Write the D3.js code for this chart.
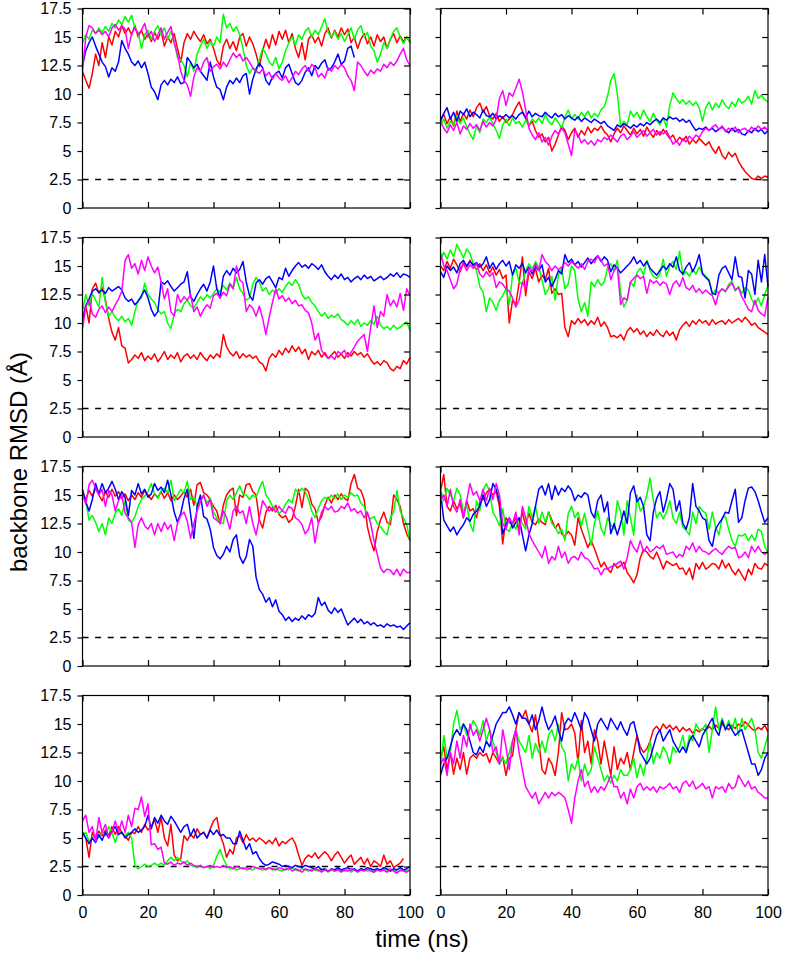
<!DOCTYPE html>
<html><head><meta charset="utf-8">
<script src="https://cdn.jsdelivr.net/npm/d3@7"></script>
<style>body{margin:0;background:#fff}</style>
</head><body><svg id="c" width="787" height="954"></svg>
<script>
const xTicks = [0,20,40,60,80,100];
const yTicks = [0,2.5,5,7.5,10,12.5,15,17.5];
const threshold = 2.5;
const xTitle = "time (ns)";
const yTitle = "backbone RMSD (Å)";
const seriesColors = ["#ff0000","#00ff00","#0000ff","#ff00ff"]; // red, green, blue, magenta

// Panel 1 (top left)
const p1Red = [12.0,11.2,10.5,11.8,13.5,12.5,14.5,13.2,15.0,14.3,15.5,15.0,16.0,15.3,15.8,15.2,16.0,15.0,15.6,14.8,15.3,14.6,15.4,14.8,15.5,14.2,15.0,14.5,15.3,14.0,12.8,14.5,15.3,14.8,15.5,15.0,14.6,15.2,14.4,14.8,14.0,13.0,12.5,14.2,14.8,14.0,14.6,13.8,15.0,15.3,14.2,15.0,14.4,13.5,12.4,13.8,14.8,14.0,15.2,14.3,15.5,14.8,15.6,14.5,15.3,14.0,13.2,14.5,13.0,14.8,15.2,14.5,15.0,14.2,15.3,15.8,14.9,15.6,15.0,15.8,15.2,15.7,14.5,15.0,14.0,14.8,15.3,14.4,15.0,14.2,15.2,14.6,15.0,14.0,14.8,15.3,14.5,15.1,14.6,15.0,14.5];
const p1Green = [14.5,15.2,14.8,15.6,15.3,15.8,15.4,15.9,15.5,16.2,15.8,16.5,16.1,16.8,16.3,16.9,15.8,15.4,14.0,15.2,15.6,14.8,15.5,16.0,15.2,15.8,14.8,15.5,14.6,13.2,13.0,12.5,11.5,12.8,12.0,13.5,14.2,14.8,14.0,14.6,14.2,15.0,14.5,17.0,15.8,16.2,15.5,15.9,15.2,14.0,12.5,11.8,12.3,11.9,13.0,14.0,13.5,12.8,12.5,13.2,12.2,12.8,13.8,14.5,15.0,14.3,15.2,14.8,15.5,15.8,15.0,15.6,15.2,15.9,16.6,15.4,15.0,15.5,14.8,15.3,14.6,15.2,15.8,14.8,15.6,16.0,15.0,15.4,14.2,13.8,12.8,13.5,14.5,14.0,14.8,15.5,15.8,15.0,14.4,15.0,14.6];
const p1Blue = [12.5,13.8,14.5,15.0,14.2,13.5,12.8,12.4,11.5,12.3,12.0,12.8,14.7,14.0,13.5,12.8,12.5,12.9,12.3,12.8,11.8,10.6,10.2,9.5,10.8,11.2,10.8,11.3,11.0,11.5,10.9,11.0,13.2,12.8,12.3,12.6,12.0,11.6,11.2,12.8,11.5,10.6,10.4,9.5,10.6,11.2,10.9,11.4,11.0,11.6,11.8,10.0,11.3,12.2,12.7,12.3,11.2,10.8,11.5,11.8,12.0,11.4,12.3,12.6,11.8,11.0,10.8,11.2,11.9,12.3,11.6,12.5,12.2,12.7,13.0,12.1,12.3,12.8,13.5,12.6,12.9,14.0,14.2,13.2];
const p1Magenta = [12.0,15.0,16.0,15.8,15.3,15.6,15.2,15.5,15.0,15.8,16.1,15.6,16.0,15.7,14.0,15.3,15.8,15.2,15.6,16.2,15.0,15.5,14.6,15.2,15.8,14.8,15.4,15.9,14.5,13.5,12.0,11.2,10.8,9.8,11.5,12.3,12.0,12.8,13.2,12.0,12.4,12.6,12.2,12.8,12.4,13.0,13.6,13.2,13.5,12.9,13.2,12.8,12.3,12.0,11.8,12.2,11.6,11.9,11.3,11.8,11.4,11.2,11.6,11.0,11.4,12.0,11.7,12.2,12.5,12.0,12.6,12.3,11.5,11.8,11.4,12.3,12.0,12.5,12.2,12.6,12.3,11.6,11.2,10.3,12.8,12.5,12.0,11.6,12.1,11.8,12.2,12.0,12.6,12.3,12.8,12.5,12.9,13.5,14.0,13.0,12.5];

// Panel 2 (top right)
const p2Red = [7.8,8.2,7.4,8.0,7.2,8.5,7.6,8.3,7.8,8.6,8.0,8.8,9.2,8.4,8.9,8.1,7.8,8.3,7.6,8.0,7.5,7.8,8.2,8.8,9.3,8.5,7.9,7.2,7.6,6.8,6.2,6.5,5.8,6.2,5.0,5.6,6.4,7.2,6.8,6.0,6.6,7.0,6.2,6.8,6.4,7.1,6.6,7.0,6.8,7.2,6.7,6.4,5.8,6.5,7.0,6.6,7.2,6.8,6.4,7.0,6.5,6.9,6.3,7.1,6.6,6.2,6.8,6.4,6.9,6.5,6.1,6.4,5.8,6.2,5.9,6.3,5.6,6.0,5.7,6.1,5.8,5.5,5.8,5.2,4.8,5.4,4.6,4.3,4.9,4.5,4.8,4.1,3.6,3.2,2.9,2.6,2.5,2.8,2.6,2.8,2.7];
const p2Green = [7.2,7.8,7.0,7.6,7.3,8.0,7.4,7.9,7.1,6.5,6.0,7.2,6.6,7.8,7.5,8.0,7.4,6.8,6.1,7.3,7.8,7.2,7.9,7.4,7.6,7.1,7.7,7.3,7.8,7.5,7.9,7.4,8.2,7.6,7.3,7.9,7.5,7.0,8.0,8.6,7.8,8.2,7.8,8.4,8.0,8.5,7.9,8.3,8.0,8.6,8.9,9.8,11.2,11.8,10.0,7.2,7.6,7.3,8.5,8.0,8.4,7.8,8.6,8.0,7.6,8.3,7.7,7.3,7.9,7.1,9.0,10.1,9.6,9.2,9.5,9.1,9.4,9.0,9.3,8.8,7.6,8.8,9.3,8.6,9.2,8.8,9.5,9.0,8.7,9.3,8.9,9.6,9.2,9.4,9.8,9.1,10.3,9.6,9.9,9.5,9.3];
const p2Blue = [7.6,8.3,8.8,7.8,8.4,7.6,8.5,8.2,8.7,8.0,8.4,8.2,7.9,8.6,8.1,8.0,8.3,7.8,8.1,7.9,8.2,7.9,8.1,7.8,8.2,8.4,7.9,8.5,8.0,8.3,8.1,8.0,8.4,8.1,7.9,8.3,8.0,8.2,7.8,8.1,7.9,7.7,8.0,7.6,7.9,7.7,7.5,7.8,7.6,7.4,7.6,7.2,7.0,6.8,7.3,7.1,7.4,7.2,7.0,7.3,7.1,7.4,7.2,7.5,7.3,7.6,7.8,7.5,7.9,7.7,8.0,7.8,7.9,7.6,7.8,7.5,7.7,7.2,6.8,7.0,6.9,7.1,6.8,7.0,6.7,6.9,7.1,6.8,6.6,7.0,6.7,6.9,6.5,6.4,6.8,6.6,7.0,6.7,6.9,6.5,6.8];
const p2Magenta = [7.6,7.0,6.6,7.3,6.8,7.5,6.5,7.2,6.9,7.4,7.0,7.3,6.8,7.6,7.1,7.5,7.2,7.8,9.6,10.3,9.0,10.1,9.8,10.5,11.3,10.2,8.6,7.0,6.4,6.0,6.6,5.8,6.2,5.5,6.3,6.8,6.5,7.0,6.6,5.6,4.6,6.8,6.4,5.7,6.0,5.6,5.9,5.5,6.0,5.8,6.2,6.0,6.4,6.1,5.8,6.3,6.5,6.0,6.3,6.7,6.2,6.5,6.8,6.3,6.6,6.9,6.4,6.7,6.5,6.8,6.2,5.6,5.9,5.5,6.1,5.8,6.3,6.0,6.4,6.2,6.7,7.0,6.8,7.1,7.3,6.9,7.2,6.7,7.0,6.8,7.1,6.6,6.9,7.0,6.7,7.1,6.8,7.2,6.9,7.1,6.8];

// Panel 3 (second row left)
const p3Red = [10.3,11.5,10.0,13.0,13.5,12.6,13.1,12.0,10.4,9.2,8.5,9.6,8.0,7.8,6.5,6.8,7.2,6.9,7.4,6.7,7.1,6.8,7.3,6.6,7.0,7.5,6.8,7.2,6.9,7.4,6.6,7.1,7.3,6.9,7.2,6.8,7.4,7.0,6.7,7.2,6.9,7.3,7.0,9.0,7.9,7.4,7.1,7.5,6.9,7.3,7.0,7.2,6.9,7.1,6.6,6.4,5.8,6.9,7.3,7.0,7.6,7.2,7.8,7.4,8.0,7.5,7.9,7.3,7.7,6.8,7.5,7.2,7.6,7.0,7.4,6.9,7.2,7.5,7.0,7.3,6.9,7.4,7.1,7.5,7.2,7.4,7.0,7.3,6.8,6.4,6.6,6.3,6.7,6.5,6.0,5.8,6.2,6.0,6.7,6.4,7.0];
const p3Green = [11.0,12.5,11.5,12.6,12.0,11.4,14.0,11.8,10.6,11.0,10.5,10.2,10.6,10.1,10.4,9.8,11.0,12.0,12.2,13.5,12.5,12.1,11.8,11.2,10.8,11.0,10.0,9.5,10.8,11.2,11.0,11.7,12.0,11.5,11.3,11.8,12.3,12.0,12.5,12.2,12.6,13.0,12.7,13.3,12.9,13.5,13.1,14.0,13.0,12.6,12.0,12.2,13.4,14.0,13.6,12.8,13.1,12.5,12.9,12.6,13.0,12.7,13.2,13.6,13.3,13.8,13.4,12.5,12.1,12.3,11.8,11.5,11.0,10.6,10.9,10.4,10.7,10.5,10.8,10.3,10.1,9.8,10.2,9.9,10.3,9.7,10.0,9.8,10.2,9.9,10.6,9.8,9.5,9.7,9.4,9.8,9.5,9.6,9.9,10.1,9.3];
const p3Blue = [10.2,11.5,12.1,12.8,13.0,12.7,12.9,12.6,13.1,12.8,13.0,13.2,12.9,12.2,11.9,12.1,11.6,11.9,12.4,12.9,12.2,11.2,10.6,11.0,13.6,13.4,13.7,13.2,12.8,13.1,13.4,13.6,14.5,12.3,11.9,12.5,13.0,13.4,12.8,13.6,15.0,13.0,12.2,14.1,14.6,14.2,14.8,14.4,14.7,15.4,13.6,12.4,12.0,13.5,13.8,13.4,13.9,14.1,13.6,13.1,14.0,13.8,14.8,14.1,14.6,15.0,15.3,14.9,15.1,14.8,15.2,15.0,14.7,15.1,14.5,14.1,13.8,14.2,13.9,14.3,13.8,14.0,13.6,13.9,14.1,13.8,14.2,13.9,14.1,13.7,13.9,14.1,13.8,14.0,14.3,14.1,14.4,14.0,14.3,14.2,14.0];
const p3Magenta = [9.5,11.4,12.0,10.8,10.5,11.2,11.5,10.9,11.4,11.0,11.6,12.1,12.8,15.5,16.0,14.8,15.2,14.3,15.5,14.6,15.8,15.0,14.4,14.9,13.6,12.1,13.0,11.0,10.6,12.5,11.8,12.3,12.0,12.5,11.0,11.4,10.6,11.2,11.6,11.3,12.4,12.6,12.2,12.7,12.4,13.4,13.0,15.0,13.8,13.5,11.0,11.6,11.3,10.6,11.5,10.4,9.0,10.5,11.8,13.0,12.1,12.4,11.9,12.2,11.7,12.0,11.5,11.6,11.1,10.9,10.0,8.5,9.1,7.6,7.2,6.9,7.1,6.8,7.5,7.3,7.6,7.0,7.4,7.9,8.4,8.7,9.0,7.5,9.6,11.5,9.6,11.0,10.6,12.5,11.5,12.0,11.4,12.6,11.1,13.0,12.4];

// Panel 4 (second row right)
const p4Red = [15.0,14.6,15.4,14.8,15.6,15.1,14.5,15.3,14.9,15.5,15.0,14.7,15.2,14.6,15.1,14.4,14.9,14.2,14.7,13.9,14.2,10.0,12.0,11.6,13.5,15.8,12.4,14.5,13.9,14.8,13.6,14.2,13.8,14.8,12.6,13.0,12.5,12.6,9.6,8.8,10.2,9.9,10.4,10.0,10.3,9.8,10.2,9.9,10.5,9.7,10.1,9.6,8.8,8.9,8.7,9.0,8.5,9.3,9.6,9.2,9.5,9.0,9.3,8.8,9.2,8.9,9.4,9.0,8.8,9.3,8.9,9.2,8.5,9.4,9.8,10.1,9.7,10.2,9.9,10.3,10.0,10.2,9.8,10.3,9.9,10.1,10.2,9.9,10.3,10.0,10.2,10.4,10.1,10.5,10.2,9.8,10.0,9.6,9.4,9.2,9.0];
const p4Green = [15.5,16.2,15.6,16.4,15.8,16.9,16.3,15.7,16.5,16.1,15.2,14.6,13.2,12.7,11.0,12.2,11.8,11.1,12.0,12.4,13.0,11.6,14.2,14.8,13.6,13.4,14.6,15.2,14.7,15.4,14.9,13.8,12.5,13.0,14.1,12.0,14.2,14.8,13.0,13.4,15.0,14.6,12.1,11.0,11.8,10.6,13.6,13.2,13.8,13.3,13.6,14.8,15.2,14.6,15.5,12.6,11.4,12.0,13.6,13.2,14.4,14.8,14.2,15.5,14.6,14.1,13.9,14.3,15.6,14.1,15.0,15.4,14.7,16.3,14.2,14.5,14.1,14.7,14.3,14.9,14.4,14.1,13.8,12.5,12.9,12.6,13.0,12.7,13.4,13.7,12.8,13.2,12.6,13.1,12.9,12.1,11.6,12.2,11.5,12.5,13.3];
const p4Blue = [14.5,14.0,15.0,14.6,14.9,14.4,15.2,15.5,15.0,15.4,15.1,15.3,14.9,15.2,15.8,14.8,15.3,14.7,15.2,15.5,15.0,15.4,14.2,15.1,14.8,15.2,14.4,14.9,14.3,15.0,14.6,15.1,13.6,14.0,13.2,13.8,14.6,14.3,16.0,15.3,15.6,15.1,15.4,14.9,15.3,15.7,15.2,15.6,15.9,15.4,15.8,15.5,14.5,15.1,14.8,14.4,14.7,15.0,15.3,15.8,15.2,15.5,15.0,15.4,14.8,14.5,14.2,14.6,15.0,14.7,15.2,14.9,15.8,14.6,14.3,14.9,15.3,14.5,15.1,16.0,14.3,14.0,13.7,12.6,12.5,14.2,14.8,15.0,14.4,13.8,15.8,14.1,14.0,12.2,14.6,14.3,12.5,15.5,13.6,16.0,13.2];
const p4Magenta = [16.2,15.0,14.6,13.8,13.0,13.4,14.8,15.2,14.6,15.1,14.8,15.2,14.3,14.0,14.5,14.1,14.4,13.1,13.6,13.4,13.0,12.8,12.2,11.4,12.0,13.6,13.0,14.8,14.5,15.2,14.6,16.0,15.4,15.1,14.6,15.0,14.7,14.9,15.3,15.0,15.4,15.1,14.8,15.2,14.7,15.4,15.6,15.3,15.9,15.5,15.0,15.2,13.8,14.6,14.9,11.6,12.2,12.0,13.6,13.9,14.2,13.9,14.1,12.6,13.8,13.5,13.7,13.3,13.6,13.4,12.5,13.4,13.7,13.2,14.0,13.1,12.9,13.3,12.7,13.0,12.6,12.9,12.6,12.4,11.6,12.7,13.0,12.8,13.2,13.5,12.9,13.1,12.3,11.8,11.2,11.0,12.0,11.1,10.8,10.6,12.3];

// Panel 5 (third row left)
const p5Red = [15.2,14.6,15.4,14.9,15.6,15.0,14.5,15.3,14.8,15.5,14.9,15.3,14.7,15.1,14.5,15.0,14.6,15.2,14.8,15.4,15.0,14.6,15.1,14.8,15.3,14.7,15.2,14.5,15.0,14.6,14.9,15.3,14.8,15.5,14.1,15.9,16.1,15.2,15.0,14.6,14.0,13.6,12.5,14.1,15.0,15.4,15.6,13.2,15.0,14.8,15.9,16.0,15.3,15.0,12.8,12.1,13.5,14.0,13.6,14.1,13.3,13.0,13.2,12.6,12.9,14.0,15.5,13.9,15.6,15.3,14.2,13.8,12.6,13.1,14.1,14.8,14.3,15.0,14.6,15.1,14.7,14.5,16.0,16.8,15.6,15.4,14.6,12.2,11.0,10.1,11.8,12.8,13.5,12.6,12.4,15.0,14.6,14.0,12.5,11.6,11.0];
const p5Green = [15.0,14.5,12.8,13.2,12.6,11.8,12.5,11.5,13.0,12.5,13.4,13.8,13.2,14.5,12.8,12.6,13.1,14.0,14.6,14.9,15.3,16.0,15.1,14.7,15.4,15.6,15.2,16.3,14.5,15.0,15.5,15.2,16.2,14.6,14.8,14.0,14.5,15.0,14.3,14.7,13.5,13.0,12.6,12.5,14.5,15.0,14.6,15.2,15.8,15.1,15.0,14.6,15.0,14.8,15.6,16.2,15.0,14.6,14.0,13.8,13.4,13.6,14.2,14.6,14.3,15.5,15.2,15.6,15.3,14.6,13.6,13.0,13.8,14.5,14.8,14.6,15.0,14.7,15.1,14.6,15.0,14.8,15.2,14.9,15.0,14.3,14.0,13.2,12.9,13.1,12.5,12.2,11.8,11.5,13.0,13.5,15.4,13.6,13.0,12.4,11.0];
const p5Blue = [15.5,14.4,13.6,14.6,16.0,15.1,16.0,15.2,15.6,16.2,15.5,14.6,15.3,14.8,13.2,15.4,15.0,16.0,15.1,15.5,14.8,15.1,16.0,15.4,15.7,15.2,16.3,15.0,13.5,12.6,13.4,14.7,15.5,13.3,11.2,14.0,15.0,13.1,12.9,12.0,10.4,9.7,9.4,9.8,10.5,10.0,11.1,11.5,9.6,9.0,9.6,11.1,10.5,7.8,6.7,6.3,5.6,6.0,5.2,5.8,4.8,4.5,4.0,4.3,3.9,4.2,4.0,4.4,4.1,4.5,4.3,4.6,6.0,5.3,5.6,4.9,4.6,5.1,4.7,5.0,4.3,3.6,3.9,4.2,3.8,4.1,3.7,3.9,3.6,3.8,3.5,3.6,3.4,3.7,3.5,3.6,3.4,3.5,3.2,3.5,3.8];
const p5Magenta = [15.0,14.2,15.9,16.3,15.6,15.0,15.5,14.0,15.4,15.0,13.6,14.5,15.0,13.4,13.0,12.6,10.4,12.4,13.0,12.3,12.0,12.5,11.5,12.5,11.8,12.6,12.0,12.4,11.0,12.5,13.2,13.5,12.7,11.2,12.5,13.6,14.4,15.0,14.0,14.6,13.0,12.8,12.5,13.6,13.0,12.0,13.6,14.0,13.4,13.6,12.5,14.0,12.5,11.5,13.0,14.5,14.0,13.6,13.9,13.5,14.0,13.6,13.4,14.0,13.8,13.0,12.8,12.4,11.6,12.0,13.0,10.8,12.5,13.5,14.0,13.7,14.0,13.5,13.6,14.0,13.8,14.3,13.6,13.8,13.4,13.6,13.0,13.5,12.5,11.0,9.8,8.6,8.2,8.5,8.4,8.0,8.5,7.9,8.5,8.2,8.2];

// Panel 6 (third row right)
const p6Red = [15.3,16.8,14.0,13.6,14.5,13.8,14.2,13.0,14.5,13.6,13.8,13.0,14.4,14.6,15.2,15.5,15.0,15.3,14.0,10.7,13.0,12.6,12.4,13.0,12.0,13.5,12.3,13.4,12.6,12.4,12.9,12.6,12.4,13.5,12.8,12.1,12.5,11.6,11.4,11.8,11.5,10.6,13.0,12.0,11.2,10.4,11.0,10.3,9.5,8.7,9.1,8.5,8.2,9.0,8.6,8.8,9.1,8.2,7.8,7.3,8.0,9.5,10.2,10.0,9.6,9.4,10.0,9.3,8.5,9.2,9.0,8.8,9.0,8.5,8.6,8.0,8.6,7.6,9.0,8.5,9.1,8.5,8.7,9.0,8.9,8.5,9.3,8.6,9.0,8.4,8.0,8.5,8.0,7.5,8.5,8.0,9.0,8.6,8.5,9.0,8.8];
const p6Green = [15.5,14.5,15.6,15.0,14.5,15.6,15.0,13.5,14.1,12.5,11.8,14.5,13.6,15.4,16.0,15.3,13.5,13.0,12.3,13.8,12.0,11.8,12.6,12.0,13.0,12.5,12.0,14.0,13.0,14.0,12.5,13.5,12.6,13.5,12.5,12.2,11.6,12.0,11.0,13.4,14.0,13.0,13.5,12.3,13.4,12.0,10.6,12.5,13.6,12.1,11.5,13.0,12.4,12.0,14.5,13.5,11.5,14.5,13.0,11.5,15.0,13.6,14.0,15.0,16.5,14.5,13.0,13.5,12.9,13.5,14.5,13.0,12.5,13.5,12.2,11.9,11.5,13.5,12.5,14.0,13.6,13.4,12.0,13.5,12.2,11.5,13.0,13.1,12.0,11.0,10.5,11.5,11.4,11.6,11.0,11.5,11.0,12.0,11.8,10.5,9.9];
const p6Blue = [15.3,12.8,12.3,11.8,12.2,11.5,12.0,12.4,13.0,12.7,13.3,13.6,14.0,15.0,14.0,14.6,16.0,15.5,14.5,11.6,12.4,13.0,12.1,12.6,13.0,11.5,10.1,11.5,12.5,14.0,15.5,15.8,15.0,16.0,14.6,15.8,15.0,15.6,15.3,15.8,15.4,14.5,15.0,14.8,15.2,15.0,13.5,13.0,14.5,15.0,13.5,14.4,11.6,12.5,11.5,12.5,13.6,12.5,15.2,15.8,14.4,14.8,14.0,11.5,11.0,13.5,14.7,15.3,13.5,14.6,16.0,15.5,13.6,14.5,12.5,12.0,13.0,16.0,14.0,13.6,13.0,12.8,11.0,10.5,12.0,12.5,12.9,13.5,13.4,14.5,15.5,12.6,13.0,14.5,15.6,15.7,15.3,14.5,13.5,12.6,13.0];
const p6Magenta = [14.5,15.0,14.0,15.5,14.0,13.5,14.6,13.0,14.5,16.0,15.0,15.3,14.5,15.5,14.5,15.6,14.6,16.0,15.0,12.5,12.0,13.0,12.5,13.5,11.5,14.0,13.0,11.6,11.0,10.5,10.0,9.5,10.5,9.0,9.6,9.3,10.5,9.5,10.0,9.0,9.5,9.6,9.3,10.0,9.5,9.4,9.0,8.5,8.6,8.0,8.5,8.5,8.7,8.8,9.0,9.2,8.5,9.5,11.0,10.4,10.0,11.0,10.0,10.5,10.0,10.2,10.5,10.3,10.6,9.8,9.9,10.0,9.5,9.8,9.6,10.5,10.2,10.8,10.0,10.5,10.1,10.0,9.8,10.1,10.3,10.0,9.8,10.2,10.5,10.3,10.4,9.5,9.6,10.0,9.5,10.5,10.0,10.5,10.0,9.8,10.0];

// Panel 7 (bottom left)
const p7Red = [5.5,5.0,3.3,5.5,5.0,5.6,5.2,5.7,5.2,6.0,5.3,6.0,5.5,5.2,4.8,5.5,5.4,6.0,5.5,6.2,5.7,6.0,6.6,5.5,6.8,5.0,4.3,6.2,3.5,3.0,3.2,5.2,4.8,5.3,5.0,5.8,5.3,5.5,5.0,5.8,6.5,6.8,5.3,4.5,3.3,4.0,3.6,5.0,5.2,4.6,5.3,4.8,5.0,4.7,5.0,4.8,4.5,4.8,4.5,5.0,4.3,4.7,4.5,4.8,5.0,4.5,3.5,2.6,3.2,3.5,3.3,3.7,3.2,3.5,3.8,3.5,3.0,3.5,3.8,3.3,2.8,3.2,3.5,2.7,3.0,3.3,2.7,3.2,2.5,3.0,2.8,2.5,3.5,2.7,3.0,2.4,2.6,2.8,3.2];
const p7Green = [5.2,5.5,4.7,5.0,5.3,5.0,5.5,5.2,6.0,5.5,4.6,5.5,5.4,5.2,5.5,5.0,2.6,2.3,2.5,2.7,2.5,2.6,2.8,2.6,2.8,2.6,3.0,3.3,3.0,3.3,3.0,2.8,3.0,2.6,2.5,2.4,2.6,2.4,2.5,2.3,2.6,3.4,4.0,3.2,2.6,2.3,2.4,2.2,2.3,2.4,2.2,2.3,2.2,2.4,2.3,2.2,2.3,2.4,2.2,2.3,2.2,2.1,2.3,2.2,2.4,2.2,2.1,2.3,2.2,2.1,2.3,2.2,2.1,2.3,2.2,2.0,2.2,2.1,2.3,2.2,2.1,2.2,2.0,2.2,2.1,2.3,2.2,2.1,2.2,2.0,2.2,2.1,2.3,2.2,2.1,2.2,2.0,2.1,2.2,2.1,2.2];
const p7Blue = [5.5,5.0,4.5,5.0,4.6,5.3,4.8,5.5,5.0,5.6,6.0,5.3,5.5,5.0,5.3,5.5,5.8,5.5,5.7,6.0,7.0,5.8,6.8,6.3,7.0,6.5,6.2,6.9,6.5,6.0,5.5,6.0,6.2,5.2,5.8,5.0,5.3,5.5,5.0,5.7,5.3,5.7,5.2,5.3,5.0,5.0,4.5,4.5,5.6,4.8,4.0,4.5,3.6,3.8,3.2,2.8,2.6,2.7,2.9,2.8,2.7,2.5,2.6,2.5,2.4,2.6,2.5,2.4,2.6,2.5,2.4,2.3,2.5,2.2,2.3,2.1,2.3,2.2,2.4,2.2,2.3,2.4,2.2,2.3,2.1,2.3,2.2,2.4,2.3,2.2,2.3,2.2,2.4,2.3,2.1,2.3,2.2,2.4,2.2,2.3,2.5];
const p7Magenta = [6.5,7.0,5.5,6.0,4.7,6.8,5.5,6.2,5.0,5.5,6.5,5.5,6.5,5.5,7.0,6.0,7.6,7.5,8.6,6.9,8.0,4.4,4.5,4.0,4.2,2.8,2.7,2.9,2.6,2.8,2.7,2.9,2.6,2.8,2.6,2.5,2.6,2.4,2.5,2.6,2.4,2.5,2.4,2.6,2.4,2.5,2.3,2.5,2.4,2.3,2.4,2.3,2.5,2.4,2.3,2.4,2.2,2.4,2.3,2.2,2.4,2.3,2.2,2.4,2.1,2.3,2.2,2.0,2.3,2.2,2.1,2.3,2.2,2.0,2.2,2.1,2.3,2.1,2.2,2.0,2.2,2.1,2.3,2.2,2.0,2.2,2.1,2.3,2.1,2.0,2.2,2.1,2.2,2.0,2.3,2.1,1.9,2.2,2.1,2.0,2.2];

// Panel 8 (bottom right)
const p8Red = [12.0,13.0,11.0,12.5,10.6,12.0,11.0,12.5,10.6,12.0,12.3,12.0,12.5,12.2,12.4,11.6,12.5,12.0,11.5,12.1,10.5,12.0,12.2,14.5,16.0,15.5,16.2,15.0,14.3,15.8,13.5,11.0,10.6,12.0,11.5,10.5,12.5,16.0,14.5,14.6,15.0,14.2,11.6,15.3,12.5,13.5,11.5,14.5,13.5,11.5,13.5,12.0,10.5,13.0,11.0,12.0,11.5,12.5,11.0,12.5,14.0,13.0,12.5,12.8,13.5,14.5,14.8,14.4,15.0,14.6,14.9,14.5,14.8,14.3,14.7,14.4,14.6,14.2,14.5,14.3,14.6,14.4,14.8,14.5,14.9,14.6,15.0,14.7,14.5,14.9,14.6,15.0,14.8,15.2,14.9,14.6,14.4,14.7,14.5,14.9,14.3];
const p8Green = [11.0,14.0,12.0,12.5,15.0,16.2,14.5,15.0,14.0,14.5,15.3,14.8,14.0,15.3,13.5,14.5,13.5,12.5,11.5,12.0,11.5,12.5,13.5,14.5,13.5,13.0,12.5,14.0,12.0,13.3,12.5,13.5,12.5,14.0,14.5,13.5,15.0,13.0,12.5,10.0,11.5,11.0,12.0,10.0,11.5,10.5,11.0,13.0,12.0,11.0,10.0,10.5,9.8,10.5,10.0,11.0,10.5,10.5,11.0,12.0,10.3,11.5,10.5,12.0,13.5,11.5,12.5,12.0,13.0,12.5,11.5,13.0,12.5,13.0,14.0,12.5,14.0,13.5,15.0,14.5,14.5,15.0,12.5,14.5,16.5,14.5,15.5,14.5,15.3,14.5,15.5,14.0,15.5,14.5,15.0,15.5,14.5,12.5,12.0,13.0,14.0];
const p8Blue = [10.5,11.5,12.0,13.0,14.0,14.5,14.0,15.0,14.5,13.5,12.5,12.3,13.0,12.5,13.5,13.0,14.0,15.0,15.5,16.0,16.0,16.5,15.8,15.0,16.0,15.5,15.5,15.0,15.8,14.5,15.3,16.5,15.3,14.5,15.0,15.7,14.5,13.5,15.0,15.5,15.2,16.0,15.3,14.5,16.0,15.5,14.5,13.5,15.0,15.5,15.0,14.5,15.5,15.0,14.5,15.2,14.5,14.0,15.0,15.2,14.0,12.5,12.0,11.5,12.0,13.0,14.0,14.5,13.5,14.0,14.5,13.5,13.0,12.5,13.0,12.5,13.5,14.0,13.5,13.0,14.0,14.5,15.0,15.5,14.5,14.0,15.3,14.5,15.0,14.5,14.0,14.3,14.5,13.5,12.5,11.5,11.5,10.5,11.0,12.0,12.5];
const p8Magenta = [11.5,12.0,10.5,12.5,11.5,13.5,12.0,14.0,13.0,15.0,14.0,14.5,13.5,14.5,15.5,14.5,12.5,13.0,11.5,14.5,13.0,11.0,13.5,14.5,12.5,11.0,9.5,9.0,8.5,9.0,8.0,8.5,9.0,8.5,9.0,8.7,9.0,8.8,8.5,7.5,6.3,8.5,10.0,11.0,9.5,10.0,9.0,9.5,9.0,9.5,9.2,9.8,10.5,9.5,9.5,8.5,9.0,8.0,9.3,8.5,9.5,9.8,9.2,9.5,9.2,9.5,9.0,9.5,9.3,9.5,9.8,9.3,9.5,9.0,9.8,10.0,9.5,10.0,9.3,9.5,9.8,9.3,9.5,8.5,9.5,9.3,9.5,9.0,9.8,9.3,9.5,10.5,10.0,9.5,10.0,9.3,9.5,9.0,8.8,8.5,8.5];

const panels = [
  [p1Red,p1Green,p1Blue,p1Magenta],
  [p2Red,p2Green,p2Blue,p2Magenta],
  [p3Red,p3Green,p3Blue,p3Magenta],
  [p4Red,p4Green,p4Blue,p4Magenta],
  [p5Red,p5Green,p5Blue,p5Magenta],
  [p6Red,p6Green,p6Blue,p6Magenta],
  [p7Red,p7Green,p7Blue,p7Magenta],
  [p8Red,p8Green,p8Blue,p8Magenta]
];

// ---- layout ----
const colLeft = [82.5, 440.5];
const panelW = 327.5;
const rowTop = [8.5, 237.5, 466.5, 695.5];
const panelH = 199.5;
const tickFont = "'Liberation Sans', Arial, sans-serif";
const titleFont = "'Liberation Sans', Arial, sans-serif";

const svg = d3.select("#c");

panels.forEach((series, idx) => {
  const col = idx % 2, row = Math.floor(idx / 2);
  const x0 = colLeft[col], y0 = rowTop[row];
  const x = d3.scaleLinear().domain([0, 100]).range([x0, x0 + panelW]);
  const y = d3.scaleLinear().domain([0, 17.5]).range([y0 + panelH, y0]);
  const g = svg.append("g");

  // threshold dashed line
  g.append("line")
    .attr("x1", x(0)).attr("x2", x(100))
    .attr("y1", y(threshold)).attr("y2", y(threshold))
    .attr("stroke", "#000").attr("stroke-width", 1.3)
    .attr("stroke-dasharray", "6,6.6");

  // series
  const line = d3.line().x((d, i) => x(i)).y(d => y(d));
  series.forEach((vals, si) => {
    g.append("path").datum(vals)
      .attr("d", line)
      .attr("fill", "none")
      .attr("stroke", seriesColors[si])
      .attr("stroke-width", 1.5)
      .attr("stroke-linejoin", "round");
  });

  // axes (ticks)
  const bottom = g.append("g").attr("transform", `translate(0,${y(0)})`)
    .call(d3.axisBottom(x).tickValues(xTicks).tickSize(-6).tickPadding(row === 3 ? 12 : 0)
      .tickFormat(row === 3 ? d3.format("d") : () => ""));
  const top = g.append("g").attr("transform", `translate(0,${y(17.5)})`)
    .call(d3.axisTop(x).tickValues(xTicks).tickSize(-6).tickFormat(() => ""));
  const left = g.append("g").attr("transform", `translate(${x(0)},0)`)
    .call(d3.axisLeft(y).tickValues(yTicks).tickSize(5).tickPadding(6)
      .tickFormat(col === 0 ? (d => String(d)) : () => ""));
  const right = g.append("g").attr("transform", `translate(${x(100)},0)`)
    .call(d3.axisLeft(y).tickValues(yTicks).tickSize(6).tickFormat(() => ""));
  [bottom, top, left, right].forEach(a => {
    a.select(".domain").remove();
    a.selectAll(".tick line").attr("stroke", "#000").attr("stroke-width", 1.2);
    a.selectAll("text").attr("font-family", tickFont).attr("font-size", 16).attr("fill", "#000");
  });

  // frame
  g.append("rect")
    .attr("x", x(0)).attr("y", y(17.5))
    .attr("width", x(100) - x(0)).attr("height", y(0) - y(17.5))
    .attr("fill", "none").attr("stroke", "#000").attr("stroke-width", 1.2);
});

// titles
svg.append("text")
  .attr("x", 422).attr("y", 947)
  .attr("text-anchor", "middle")
  .attr("font-family", titleFont).attr("font-size", 24)
  .text(xTitle);
svg.append("text")
  .attr("transform", "translate(27,462) rotate(-90)")
  .attr("text-anchor", "middle")
  .attr("font-family", titleFont).attr("font-size", 24)
  .text(yTitle);
</script>
</body></html>
